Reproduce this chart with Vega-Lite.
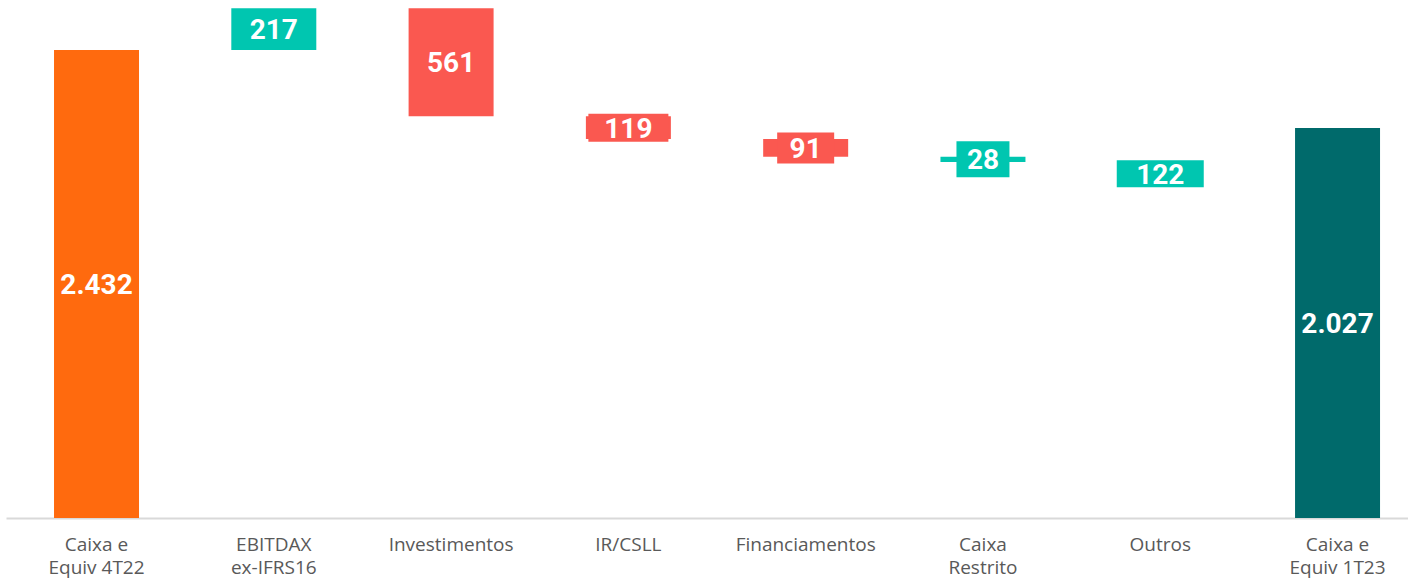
{
  "$schema": "https://vega.github.io/schema/vega-lite/v6.json",
  "autosize": {"type": "none"},
  "width": 1402,
  "height": 518,
  "padding": {"left": 6, "top": 0, "right": 0, "bottom": 64},
  "background": "#ffffff",
  "config": {"view": {"stroke": null}},
  "data": {"values": [
    {"cat": "Caixa e\nEquiv 4T22", "start": 0, "end": 2432, "label": "2.432", "kind": "inicio"},
    {"cat": "EBITDAX\nex-IFRS16", "start": 2432, "end": 2649, "label": "217", "kind": "aumento"},
    {"cat": "Investimentos", "start": 2649, "end": 2088, "label": "561", "kind": "reducao"},
    {"cat": "IR/CSLL", "start": 2088, "end": 1969, "label": "119", "kind": "reducao"},
    {"cat": "Financiamentos", "start": 1969, "end": 1878, "label": "91", "kind": "reducao"},
    {"cat": "Caixa\nRestrito", "start": 1878, "end": 1850, "label": "28", "kind": "aumento"},
    {"cat": "Outros", "start": 1850, "end": 1728, "label": "122", "kind": "aumento"},
    {"cat": "Caixa e\nEquiv 1T23", "start": 0, "end": 2027, "label": "2.027", "kind": "fim"}
  ]},
  "encoding": {
    "x": {
      "field": "cat", "type": "nominal", "sort": null,
      "scale": {"paddingInner": 0.5206, "paddingOuter": 0.2143, "align": 0.632},
      "axis": {
        "title": null, "ticks": false, "labelAngle": 0,
        "labelExpr": "split(datum.value, '\\n')",
        "labelFont": "Open Sans", "labelFontSize": 19, "labelColor": "#595959",
        "labelPadding": 17, "labelLineHeight": 23, "labelBaseline": "top",
        "domainColor": "#d9d9d9", "domainWidth": 2, "grid": false
      }
    }
  },
  "layer": [
    {
      "mark": {"type": "bar"},
      "encoding": {
        "y": {"field": "start", "type": "quantitative", "scale": {"domain": [0, 2692], "nice": false, "zero": true}, "axis": null},
        "y2": {"field": "end"},
        "color": {"field": "kind", "type": "nominal", "legend": null,
          "scale": {"domain": ["inicio", "aumento", "reducao", "fim"], "range": ["#ff6a0e", "#00c6b0", "#fa5850", "#006a6b"]}}
      }
    },
    {
      "transform": [
        {"filter": {"field": "label", "oneOf": ["119", "91", "28", "122"]}},
        {"fold": ["start", "end"], "as": ["k", "v"]}
      ],
      "mark": {"type": "point", "filled": true, "size": 4, "opacity": 1, "strokeWidth": 0},
      "encoding": {
        "y": {"aggregate": "mean", "field": "v", "type": "quantitative"},
        "shape": {"field": "label", "type": "nominal", "legend": null,
          "scale": {"domain": ["119", "91", "28", "122"],
            "range": ["M-40,-14H40V14H-40Z", "M-28.5,-15.5H28.5V15.5H-28.5Z", "M-26.5,-18H26.5V18H-26.5Z", "M-43.5,-13.5H43.5V13.5H-43.5Z"]}},
        "color": {"field": "kind", "type": "nominal", "legend": null}
      }
    },
    {
      "transform": [
        {"fold": ["start", "end"], "as": ["k", "v"]}
      ],
      "mark": {"type": "text", "font": "Roboto", "fontWeight": "bold", "fontSize": 28, "color": "#ffffff", "baseline": "middle", "align": "center", "dy": 2},
      "encoding": {
        "y": {"aggregate": "mean", "field": "v", "type": "quantitative"},
        "text": {"field": "label", "type": "nominal"}
      }
    }
  ]
}
